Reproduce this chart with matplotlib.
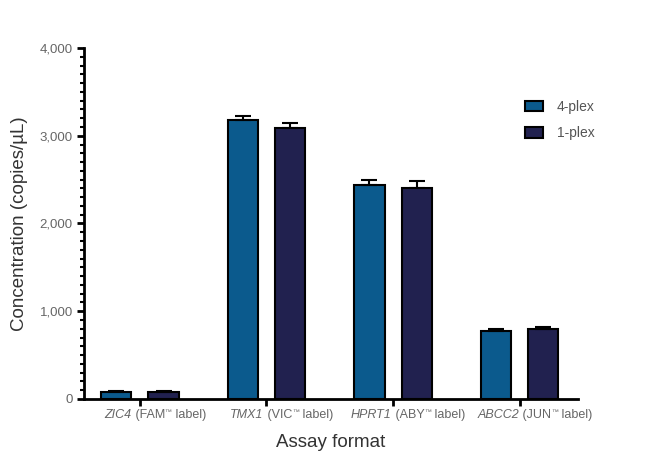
import numpy as np
import matplotlib.pyplot as plt
from matplotlib.ticker import MultipleLocator, FuncFormatter
from matplotlib.offsetbox import TextArea, HPacker, AnnotationBbox

plt.rcParams['font.family'] = ['Liberation Sans', 'DejaVu Sans']

# data
genes = ['ZIC4', 'TMX1', 'HPRT1', 'ABCC2']
dyes = ['FAM', 'VIC', 'ABY', 'JUN']
plex4 = [82, 3180, 2440, 775]
plex4_err = [10, 40, 55, 18]
plex1 = [75, 3090, 2405, 795]
plex1_err = [12, 60, 80, 30]

fig = plt.figure(figsize=(6.5, 4.57), dpi=100)
ax = fig.add_axes([0.129, 0.127, 0.76, 0.768])

x = np.arange(len(genes))
w = 0.24
off = 0.187
ekw = dict(elinewidth=1.5, capthick=1.5, capsize=6, ecolor='black')
ax.bar(x - off, plex4, w, yerr=[np.zeros(4), plex4_err], color='#0b5a8d',
       edgecolor='black', linewidth=1.5, error_kw=ekw, label='4-plex')
ax.bar(x + off, plex1, w, yerr=[np.zeros(4), plex1_err], color='#21214f',
       edgecolor='black', linewidth=1.5, error_kw=ekw, label='1-plex')

ax.set_xlim(-0.443, 3.46)
ax.set_ylim(0, 4000)
ax.yaxis.set_major_locator(MultipleLocator(1000))
ax.yaxis.set_minor_locator(MultipleLocator(100))
ax.yaxis.set_major_formatter(FuncFormatter(lambda v, p: f'{int(v):,}'))

ax.set_xticks(x)
ax.set_xticklabels([])

# category labels: italic gene name + dye with small superscript TM
lab = dict(color='#666666', fontsize=9)
for xi, g, d in zip(x, genes, dyes):
    parts = [TextArea(g, textprops=dict(style='italic', **lab)),
             TextArea(f' ({d}', textprops=lab),
             TextArea('™', textprops=dict(color='#666666', fontsize=5)),
             TextArea(' label)', textprops=lab)]
    box = HPacker(children=parts, align='top', pad=0, sep=0)
    ab = AnnotationBbox(box, (xi, 0), xycoords=('data', 'axes fraction'),
                        xybox=(11, -7.5), boxcoords='offset points',
                        box_alignment=(0.5, 1), frameon=False)
    ax.add_artist(ab)

for s in ['top', 'right']:
    ax.spines[s].set_visible(False)
for s in ['left', 'bottom']:
    ax.spines[s].set_linewidth(2)

ax.tick_params(axis='y', which='major', length=5, width=2, labelsize=9.5,
               labelcolor='#666666', pad=3)
ax.tick_params(axis='x', which='major', length=5, width=2)
ax.tick_params(axis='y', which='minor', length=3, width=1.5)

ax.set_ylabel('Concentration (copies/µL)', fontsize=13.5, color='#333333', labelpad=8)
ax.set_xlabel('Assay format', fontsize=13.5, color='#333333', labelpad=17)

ax.legend(loc='upper left', bbox_to_anchor=(0.868, 0.888), frameon=False,
          fontsize=10, labelcolor='#555555', handlelength=1.3, handleheight=0.8,
          labelspacing=0.9, handletextpad=1.0)

fig.savefig('out.png', dpi=100)
